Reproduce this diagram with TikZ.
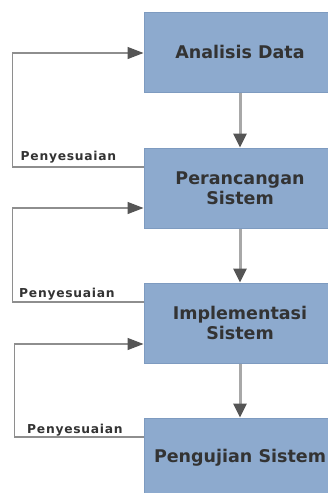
\documentclass[tikz,border=0pt]{standalone}
\usepackage{fontspec}
\setmainfont{DejaVu Sans}
\newfontfamily\lblfont[LetterSpace=6]{DejaVu Sans}
\usetikzlibrary{arrows.meta,calc}
\definecolor{boxfill}{HTML}{8DAACE}
\definecolor{boxline}{HTML}{7E9BC0}
\definecolor{txt}{HTML}{333333}
\definecolor{tipc}{HTML}{555555}
\definecolor{linec}{HTML}{A8A8A8}
\definecolor{loopc}{HTML}{8E8E8E}
\begin{document}
\begin{tikzpicture}[x=1pt,y=1pt,
  stage/.style={draw=boxline,fill=boxfill,line width=1pt,minimum width=192pt,minimum height=80pt,inner sep=0pt,
    align=center,text=txt,font=\fontsize{17.5}{19.5}\selectfont\bfseries},
  flow/.style={draw=linec,line width=3pt,-{Triangle[length=14pt,width=13pt,fill=tipc,color=tipc]}},
  loopline/.style={draw=loopc,line width=1.3pt,-{Triangle[length=16pt,width=12pt,fill=tipc,color=tipc]}},
  lbl/.style={anchor=base west,inner sep=0pt,text=txt,font=\fontsize{12.3}{14}\lblfont\bfseries}]
\useasboundingbox[fill=white] (0,0) rectangle (328,-493);
\node[stage] (b1) at (240,-52) {Analisis Data};
\node[stage] (b2) at (240,-188) {Perancangan\\Sistem};
\node[stage] (b3) at (240,-323) {Implementasi\\Sistem};
\node[stage] (b4) at (240,-458) {Pengujian Sistem};
\draw[flow] (b1.south) -- (b2.north);
\draw[flow] (b2.south) -- (b3.north);
\draw[flow] (b3.south) -- (b4.north);
\draw[loopline] ([yshift=21pt]b2.west) -- (12.7,-167) |- ([yshift=-1pt]b1.west);
\draw[loopline] ([yshift=21pt]b3.west) -- (12.7,-302) |- ([yshift=-20pt]b2.west);
\draw[loopline] ([yshift=21pt]b4.west) -- (14.5,-437) |- ([yshift=-21pt]b3.west);
\node[lbl] (p1) at (20.5,-160) {Penyesuaian};
\node[lbl] (p2) at (19,-297) {Penyesuaian};
\node[lbl] (p3) at (27,-433) {Penyesuaian};
\end{tikzpicture}
\end{document}
